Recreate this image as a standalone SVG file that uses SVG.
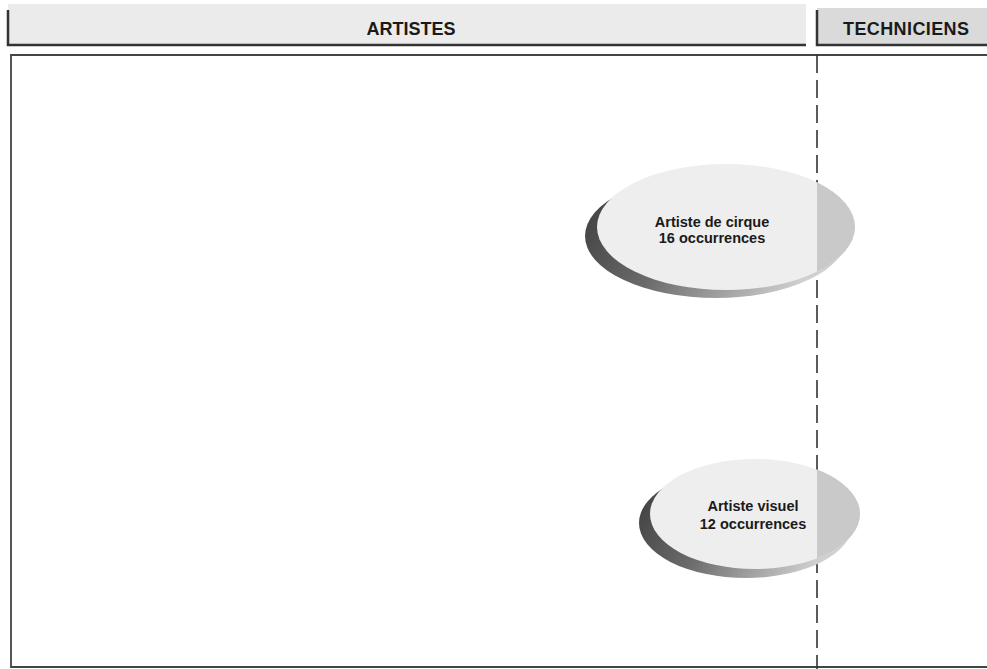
<svg xmlns="http://www.w3.org/2000/svg" width="987" height="669" viewBox="0 0 987 669">
<style>
.hdr{font-family:"Liberation Sans",Arial,sans-serif;font-weight:bold;font-size:18px;fill:#1a1a1a;text-anchor:middle}
.lbl{font-family:"Liberation Sans",Arial,sans-serif;font-weight:bold;font-size:14.5px;fill:#1a1a1a;text-anchor:middle}
.edge{stroke:#333;fill:none}
</style>
<defs>
<linearGradient id="shadow" x1="0" y1="0" x2="1" y2="0.3">
<stop offset="0" stop-color="#3a3a3a"/>
<stop offset="0.45" stop-color="#6a6a6a"/>
<stop offset="1" stop-color="#d0d0d0"/>
</linearGradient>
<clipPath id="rightSide"><rect x="817" y="0" width="170" height="669"/></clipPath>
</defs>
<rect width="987" height="669" fill="#fff"/>
<g id="header-artistes">
<rect x="8" y="4" width="798" height="40" fill="#ebebeb"/>
<path class="edge" d="M8 10V45H806" stroke-width="2.5"/>
<text class="hdr" x="411" y="35">ARTISTES</text>
</g>
<g id="header-techniciens">
<rect x="817" y="8" width="170" height="36" fill="#dadada"/>
<path class="edge" d="M817 10V45H987" stroke-width="2.5"/>
<text class="hdr" x="906" y="35" textLength="126">TECHNICIENS</text>
</g>
<g id="frame">
<path d="M987 55H11V667H987" fill="none" stroke="#444" stroke-width="1.8"/>
<line x1="817" y1="55" x2="817" y2="669" stroke="#333" stroke-width="1.6" stroke-dasharray="18 7"/>
</g>
<g id="node-cirque">
<ellipse cx="716" cy="236" rx="131" ry="62" fill="url(#shadow)"/>
<ellipse cx="726" cy="227" rx="129" ry="63" fill="#eeeeee"/>
<ellipse cx="726" cy="227" rx="129" ry="63" fill="#c9c9c9" clip-path="url(#rightSide)"/>
<text class="lbl" x="712" y="227">Artiste de cirque</text>
<text class="lbl" x="712" y="243">16 occurrences</text>
</g>
<g id="node-visuel">
<ellipse cx="746" cy="523" rx="107" ry="55" fill="url(#shadow)"/>
<ellipse cx="755" cy="514" rx="105" ry="55" fill="#eeeeee"/>
<ellipse cx="755" cy="514" rx="105" ry="55" fill="#c9c9c9" clip-path="url(#rightSide)"/>
<text class="lbl" x="753" y="511">Artiste visuel</text>
<text class="lbl" x="753" y="529">12 occurrences</text>
</g>
<g id="connectors"/>
</svg>
